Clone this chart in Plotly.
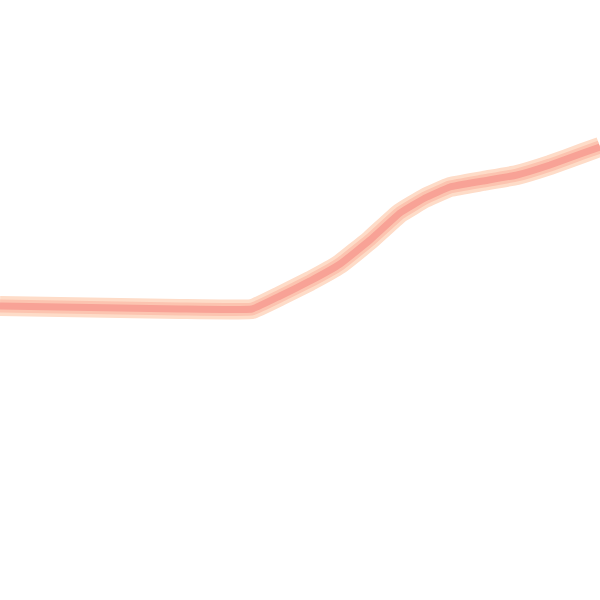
import plotly.graph_objects as go

xs = [0, 60, 120, 180, 252, 280, 310, 340, 370, 400, 425, 450, 483, 517, 550, 583, 600]
ys = [306, 307, 308, 309, 309, 296, 281, 264, 240, 213, 198, 187, 181, 175, 165, 153, 147]

line_kw = dict(shape="spline", smoothing=0.3)

fig = go.Figure()
# soft peach halo
fig.add_trace(go.Scatter(x=xs, y=ys, mode="lines",
                         line=dict(color="#fedcc8", width=20, **line_kw), hoverinfo="skip"))
fig.add_trace(go.Scatter(x=xs, y=ys, mode="lines",
                         line=dict(color="#fcc4b0", width=13, **line_kw), hoverinfo="skip"))
# salmon core
fig.add_trace(go.Scatter(x=xs, y=ys, mode="lines",
                         line=dict(color="#f8a296", width=7, **line_kw), hoverinfo="skip"))

fig.update_layout(width=600, height=600, margin=dict(l=0, r=0, t=0, b=0),
                  paper_bgcolor="white", plot_bgcolor="white", showlegend=False)
fig.update_xaxes(range=[0, 600], visible=False, fixedrange=True)
fig.update_yaxes(range=[600, 0], visible=False, fixedrange=True)

# drop the default 8px page margin so the plot sits flush with the window
fig.write_html("out.html", config={"displayModeBar": False},
               post_script="document.body.style.margin='0';")
